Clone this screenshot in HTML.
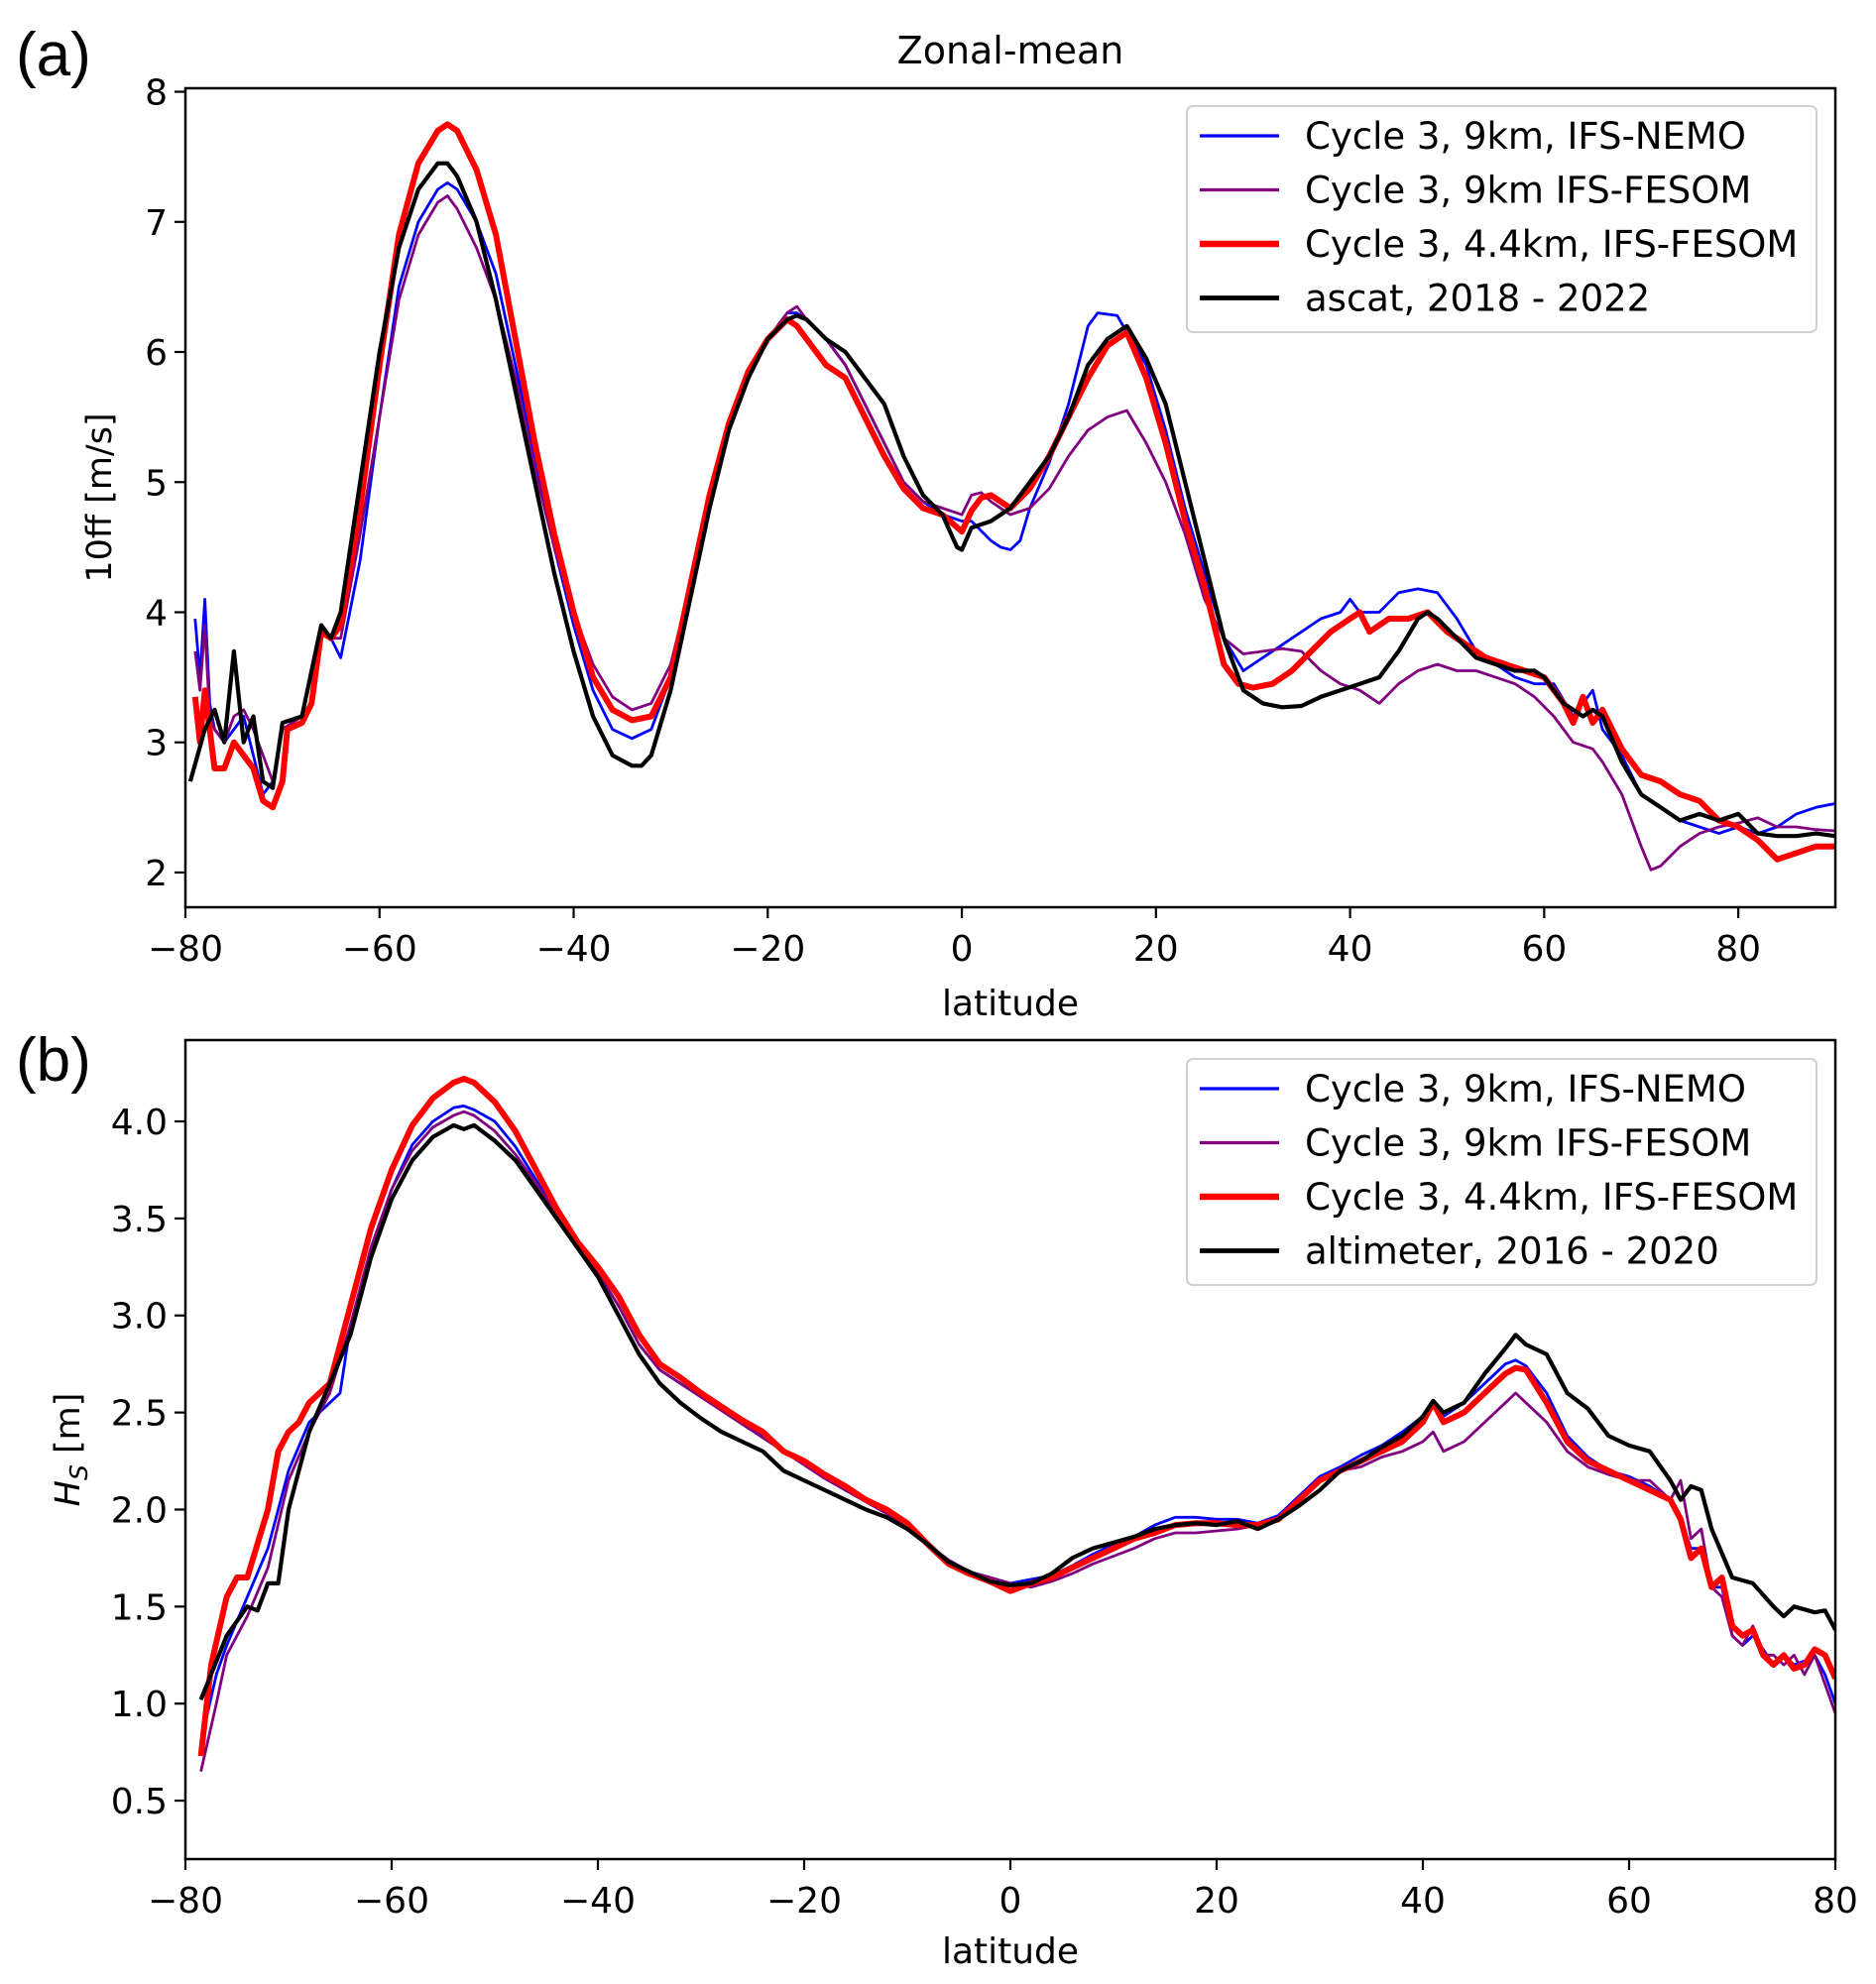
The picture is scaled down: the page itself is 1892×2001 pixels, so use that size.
<!DOCTYPE html>
<html><head><meta charset="utf-8">
<style>
html,body{margin:0;padding:0;background:#fff;}
svg{display:block;font-family:"DejaVu Sans","Liberation Sans",sans-serif;}
</style></head>
<body>
<svg id="fig" width="1892" height="2001" viewBox="0 0 1892 2001" xmlns="http://www.w3.org/2000/svg">
<rect width="1892" height="2001" fill="#fff"/>
<text x="16" y="76" font-size="62" font-family="Liberation Sans, sans-serif">(a)</text>
<text x="16" y="1090" font-size="62" font-family="Liberation Sans, sans-serif">(b)</text>
<text x="1019" y="64" font-size="38" text-anchor="middle">Zonal-mean</text>
<g id="pa"></g>
<g id="pb"></g>
</svg>
<script>
const NS="http://www.w3.org/2000/svg";
// ---- Panel (a) data: 10 m wind speed ----
const aXTicks=[-80,-60,-40,-20,0,20,40,60,80];
const aYTicks=[2,3,4,5,6,7,8];
const aNemo=[[-79,3.95],[-78.5,3.5],[-78,4.1],[-77.5,3.3],[-77,3.1],[-76,3.0],[-74,3.2],[-72,2.6],[-71,2.7],[-70,3.1],[-68,3.2],[-66,3.9],[-65,3.8],[-64,3.65],[-62,4.4],[-60,5.5],[-58,6.5],[-56,7.0],[-54,7.25],[-53,7.3],[-52,7.25],[-50,7.0],[-48,6.6],[-46,5.9],[-44,5.2],[-42,4.5],[-40,3.9],[-38,3.4],[-36,3.1],[-34,3.03],[-32,3.1],[-30,3.5],[-28,4.1],[-26,4.8],[-24,5.4],[-22,5.8],[-20,6.1],[-18,6.3],[-17,6.3],[-16,6.25],[-14,6.1],[-12,5.9],[-10,5.6],[-8,5.3],[-6,5.0],[-4,4.85],[-2,4.75],[0,4.7],[1,4.7],[3,4.55],[4,4.5],[5,4.48],[6,4.55],[7,4.8],[9,5.15],[11,5.6],[13,6.2],[14,6.3],[16,6.28],[17,6.15],[19,5.9],[21,5.4],[23,4.8],[25,4.3],[27,3.8],[29,3.55],[31,3.65],[33,3.75],[35,3.85],[37,3.95],[39,4.0],[40,4.1],[41,4.0],[43,4.0],[45,4.15],[47,4.18],[49,4.15],[51,3.95],[53,3.7],[55,3.6],[57,3.5],[59,3.45],[61,3.45],[63,3.2],[64,3.3],[65,3.4],[66,3.1],[68,2.9],[70,2.6],[72,2.5],[74,2.4],[76,2.35],[78,2.3],[80,2.35],[82,2.3],[84,2.35],[86,2.45],[88,2.5],[90,2.53]];
const aFesom9=[[-79,3.7],[-78.5,3.4],[-78,3.9],[-77.5,3.2],[-77,3.1],[-76,3.0],[-75,3.2],[-74,3.25],[-73,3.1],[-72,2.9],[-71,2.7],[-70,3.1],[-68,3.2],[-66,3.85],[-65,3.8],[-64,3.8],[-62,4.6],[-60,5.5],[-58,6.4],[-56,6.9],[-54,7.15],[-53,7.2],[-52,7.1],[-50,6.8],[-48,6.4],[-46,5.8],[-44,5.1],[-42,4.5],[-40,4.0],[-38,3.6],[-36,3.35],[-34,3.25],[-32,3.3],[-30,3.6],[-28,4.2],[-26,4.85],[-24,5.4],[-22,5.8],[-20,6.1],[-18,6.3],[-17,6.35],[-16,6.25],[-14,6.1],[-12,5.9],[-10,5.6],[-8,5.3],[-6,5.0],[-4,4.85],[-2,4.8],[0,4.75],[1,4.9],[2,4.92],[3,4.85],[5,4.75],[7,4.8],[9,4.95],[11,5.2],[13,5.4],[15,5.5],[17,5.55],[19,5.3],[21,5.0],[23,4.6],[25,4.1],[27,3.8],[29,3.68],[31,3.7],[33,3.72],[35,3.7],[37,3.55],[39,3.45],[41,3.4],[43,3.3],[45,3.45],[47,3.55],[49,3.6],[51,3.55],[53,3.55],[55,3.5],[57,3.45],[59,3.35],[61,3.2],[63,3.0],[65,2.95],[66,2.85],[68,2.6],[70,2.2],[71,2.02],[72,2.05],[74,2.2],[76,2.3],[78,2.35],[80,2.38],[82,2.42],[84,2.35],[86,2.35],[88,2.33],[90,2.32]];
const aFesom44=[[-79,3.35],[-78.5,3.0],[-78,3.4],[-77,2.8],[-76,2.8],[-75,3.0],[-74,2.9],[-73,2.8],[-72,2.55],[-71,2.5],[-70,2.7],[-69.5,3.1],[-68,3.15],[-67,3.3],[-66,3.85],[-65,3.8],[-64,3.9],[-62,4.8],[-60,5.9],[-58,6.9],[-56,7.45],[-54,7.7],[-53,7.75],[-52,7.7],[-50,7.4],[-48,6.9],[-46,6.1],[-44,5.3],[-42,4.6],[-40,4.0],[-38,3.5],[-36,3.25],[-34,3.17],[-32,3.2],[-30,3.5],[-28,4.2],[-26,4.9],[-24,5.45],[-22,5.85],[-20,6.1],[-18,6.25],[-17,6.2],[-16,6.1],[-14,5.9],[-12,5.8],[-10,5.5],[-8,5.2],[-6,4.95],[-4,4.8],[-2,4.75],[0,4.62],[1,4.78],[2,4.88],[3,4.9],[5,4.8],[7,4.95],[9,5.2],[11,5.5],[13,5.8],[15,6.05],[17,6.15],[19,5.8],[21,5.3],[23,4.7],[25,4.2],[27,3.6],[28.5,3.45],[30,3.42],[32,3.45],[34,3.55],[36,3.7],[38,3.85],[40,3.95],[41,4.0],[42,3.85],[44,3.95],[46,3.95],[48,4.0],[50,3.85],[52,3.75],[54,3.65],[56,3.6],[58,3.55],[60,3.5],[62,3.3],[63,3.15],[64,3.35],[65,3.15],[66,3.25],[68,2.95],[70,2.75],[72,2.7],[74,2.6],[76,2.55],[78,2.4],[80,2.35],[82,2.25],[84,2.1],[86,2.15],[88,2.2],[90,2.2]];
const aObs=[[-79.5,2.7],[-78,3.1],[-77,3.25],[-76,3.0],[-75,3.7],[-74,3.0],[-73,3.2],[-72,2.7],[-71,2.65],[-70,3.15],[-68,3.2],[-66,3.9],[-65,3.8],[-64,4.0],[-62,5.0],[-60,6.0],[-58,6.8],[-56,7.25],[-54,7.45],[-53,7.45],[-52,7.35],[-50,7.0],[-48,6.4],[-46,5.7],[-44,5.0],[-42,4.3],[-40,3.7],[-38,3.2],[-36,2.9],[-34,2.82],[-33,2.82],[-32,2.9],[-30,3.4],[-28,4.1],[-26,4.8],[-24,5.4],[-22,5.8],[-20,6.1],[-18,6.25],[-17,6.28],[-16,6.25],[-14,6.1],[-12,6.0],[-10,5.8],[-8,5.6],[-6,5.2],[-4,4.9],[-2,4.75],[-0.5,4.5],[0,4.48],[1,4.65],[3,4.7],[5,4.8],[7,5.0],[9,5.2],[11,5.5],[13,5.9],[15,6.1],[17,6.2],[19,5.95],[21,5.6],[23,5.0],[25,4.4],[27,3.8],[29,3.4],[31,3.3],[33,3.27],[35,3.28],[37,3.35],[39,3.4],[41,3.45],[43,3.5],[45,3.7],[47,3.95],[48,4.0],[49,3.95],[51,3.8],[53,3.65],[55,3.6],[57,3.55],[59,3.55],[60,3.5],[62,3.3],[63,3.25],[64,3.2],[65,3.25],[66,3.2],[68,2.85],[70,2.6],[72,2.5],[74,2.4],[76,2.45],[78,2.4],[80,2.45],[82,2.3],[84,2.28],[86,2.28],[88,2.3],[90,2.28]];
// ---- Panel (b) data: significant wave height ----
const bXTicks=[-80,-60,-40,-20,0,20,40,60,80];
const bYTicks=[0.5,1.0,1.5,2.0,2.5,3.0,3.5,4.0];
const bNemo=[[-78.5,0.8],[-77,1.15],[-76,1.3],[-74,1.55],[-72,1.8],[-70,2.2],[-68,2.45],[-66,2.55],[-65,2.6],[-64,2.95],[-62,3.35],[-60,3.65],[-58,3.88],[-56,4.0],[-54,4.07],[-53,4.08],[-52,4.06],[-50,4.0],[-48,3.87],[-46,3.7],[-44,3.52],[-42,3.36],[-40,3.22],[-38,3.05],[-36,2.85],[-34,2.72],[-32,2.65],[-30,2.58],[-28,2.52],[-26,2.45],[-24,2.38],[-22,2.3],[-20,2.24],[-18,2.17],[-16,2.1],[-14,2.04],[-12,1.98],[-10,1.92],[-8,1.82],[-6,1.74],[-4,1.68],[-2,1.65],[0,1.62],[2,1.64],[4,1.66],[6,1.71],[8,1.77],[10,1.82],[12,1.86],[14,1.92],[16,1.96],[18,1.96],[20,1.95],[22,1.95],[24,1.93],[26,1.97],[28,2.07],[30,2.17],[32,2.22],[34,2.28],[36,2.33],[38,2.4],[40,2.48],[41,2.55],[42,2.48],[44,2.55],[46,2.65],[48,2.75],[49,2.77],[50,2.74],[52,2.6],[54,2.38],[56,2.27],[58,2.2],[60,2.17],[62,2.12],[64,2.05],[65,1.95],[66,1.8],[67,1.8],[68,1.6],[69,1.6],[70,1.35],[71,1.3],[72,1.35],[73,1.28],[74,1.2],[75,1.25],[76,1.2],[77,1.22],[78,1.25],[79,1.15],[80,1.0]];
const bFesom9=[[-78.5,0.65],[-77,1.0],[-76,1.25],[-74,1.45],[-72,1.7],[-70,2.15],[-68,2.4],[-66,2.6],[-64,2.95],[-62,3.35],[-60,3.65],[-58,3.85],[-56,3.97],[-54,4.03],[-53,4.05],[-52,4.03],[-50,3.95],[-48,3.83],[-46,3.68],[-44,3.52],[-42,3.36],[-40,3.22],[-38,3.05],[-36,2.85],[-34,2.72],[-32,2.65],[-30,2.58],[-28,2.51],[-26,2.44],[-24,2.37],[-22,2.3],[-20,2.23],[-18,2.16],[-16,2.1],[-14,2.04],[-12,1.98],[-10,1.92],[-8,1.82],[-6,1.74],[-4,1.68],[-2,1.65],[0,1.62],[2,1.6],[4,1.63],[6,1.67],[8,1.72],[10,1.76],[12,1.8],[14,1.85],[16,1.88],[18,1.88],[20,1.89],[22,1.9],[24,1.92],[26,1.95],[28,2.05],[30,2.15],[32,2.2],[34,2.22],[36,2.27],[38,2.3],[40,2.35],[41,2.4],[42,2.3],[44,2.35],[46,2.45],[48,2.55],[49,2.6],[50,2.55],[52,2.45],[54,2.3],[56,2.22],[58,2.18],[60,2.15],[62,2.15],[64,2.05],[65,2.15],[66,1.85],[67,1.9],[68,1.6],[69,1.55],[70,1.35],[71,1.3],[72,1.4],[73,1.25],[74,1.25],[75,1.2],[76,1.25],[77,1.15],[78,1.25],[79,1.1],[80,0.95]];
const bFesom44=[[-78.5,0.73],[-77.5,1.2],[-76,1.55],[-75,1.65],[-74,1.65],[-72,2.0],[-71,2.3],[-70,2.4],[-69,2.45],[-68,2.55],[-67,2.6],[-66,2.65],[-64,3.05],[-62,3.45],[-60,3.75],[-58,3.98],[-56,4.12],[-54,4.2],[-53,4.22],[-52,4.2],[-50,4.1],[-48,3.95],[-46,3.75],[-44,3.55],[-42,3.38],[-40,3.25],[-38,3.1],[-36,2.9],[-34,2.75],[-32,2.68],[-30,2.6],[-28,2.53],[-26,2.46],[-24,2.4],[-22,2.3],[-20,2.25],[-18,2.18],[-16,2.12],[-14,2.05],[-12,2.0],[-10,1.93],[-8,1.82],[-6,1.72],[-4,1.67],[-2,1.63],[0,1.58],[2,1.62],[4,1.65],[6,1.7],[8,1.75],[10,1.8],[12,1.85],[14,1.88],[16,1.92],[18,1.93],[20,1.93],[22,1.92],[24,1.92],[26,1.95],[28,2.05],[30,2.15],[32,2.2],[34,2.25],[36,2.3],[38,2.35],[40,2.45],[41,2.55],[42,2.45],[44,2.5],[46,2.6],[48,2.7],[49,2.73],[50,2.72],[52,2.55],[54,2.35],[56,2.25],[58,2.2],[60,2.15],[62,2.1],[64,2.05],[65,1.95],[66,1.75],[67,1.8],[68,1.6],[69,1.65],[70,1.4],[71,1.35],[72,1.38],[73,1.25],[74,1.2],[75,1.25],[76,1.18],[77,1.2],[78,1.28],[79,1.25],[80,1.13]];
const bObs=[[-78.5,1.02],[-76,1.35],[-74,1.5],[-73,1.48],[-72,1.62],[-71,1.62],[-70,2.0],[-68,2.4],[-66,2.65],[-64,2.9],[-62,3.3],[-60,3.6],[-58,3.8],[-56,3.92],[-54,3.98],[-53,3.96],[-52,3.98],[-50,3.9],[-48,3.8],[-46,3.65],[-44,3.5],[-42,3.35],[-40,3.2],[-38,3.0],[-36,2.8],[-34,2.65],[-32,2.55],[-30,2.47],[-28,2.4],[-26,2.35],[-24,2.3],[-22,2.2],[-20,2.15],[-18,2.1],[-16,2.05],[-14,2.0],[-12,1.96],[-10,1.9],[-8,1.82],[-6,1.73],[-4,1.68],[-2,1.63],[0,1.61],[2,1.62],[4,1.67],[6,1.75],[8,1.8],[10,1.83],[12,1.86],[14,1.9],[16,1.92],[18,1.93],[20,1.92],[22,1.94],[24,1.9],[26,1.95],[28,2.02],[30,2.1],[32,2.2],[34,2.25],[36,2.32],[38,2.38],[40,2.48],[41,2.56],[42,2.5],[44,2.55],[46,2.7],[48,2.83],[49,2.9],[50,2.85],[52,2.8],[54,2.6],[56,2.52],[58,2.38],[60,2.33],[62,2.3],[64,2.15],[65,2.05],[66,2.12],[67,2.1],[68,1.9],[70,1.65],[72,1.62],[74,1.5],[75,1.45],[76,1.5],[78,1.47],[79,1.48],[80,1.38]];
const aLabels=["Cycle 3, 9km, IFS-NEMO","Cycle 3, 9km IFS-FESOM","Cycle 3, 4.4km, IFS-FESOM","ascat, 2018 - 2022"];
const bLabels=["Cycle 3, 9km, IFS-NEMO","Cycle 3, 9km IFS-FESOM","Cycle 3, 4.4km, IFS-FESOM","altimeter, 2016 - 2020"];

const styles=[{c:"#0000ff",w:2.8,n:"nemo-9km"},{c:"#800080",w:2.8,n:"fesom-9km"},{c:"#ff0000",w:6,n:"fesom-4p4km"},{c:"#000000",w:4.2,n:"observations"}];

function el(tag,attrs,parent){const e=document.createElementNS(NS,tag);for(const k in attrs)e.setAttribute(k,attrs[k]);parent.appendChild(e);return e;}

function panel(g,cfg){
  const L=187,R=1851,T=cfg.top,B=cfg.bottom;
  const xs=v=>L+(v-cfg.x0)/(cfg.x1-cfg.x0)*(R-L);
  const ys=v=>B-(v-cfg.y0)/(cfg.y1-cfg.y0)*(B-T);
  const clipId="clip"+cfg.id;
  const cp=el("clipPath",{id:clipId},g);
  el("rect",{x:L,y:T,width:R-L,height:B-T},cp);
  cfg.series.forEach((s,i)=>{
    const d=s.map((p,j)=>(j?"L":"M")+xs(p[0]).toFixed(1)+","+ys(p[1]).toFixed(1)).join("");
    const path=el("path",{d:d,fill:"none",stroke:styles[i].c,"stroke-width":styles[i].w,"stroke-linejoin":"round","clip-path":"url(#"+clipId+")"},g);
    
    
  });
  const frame=el("rect",{x:L,y:T,width:R-L,height:B-T,fill:"none",stroke:"#000","stroke-width":2.5},g);
  
  
  cfg.xticks.forEach(t=>{
    const x=xs(t);
    el("line",{x1:x,x2:x,y1:B,y2:B+11,stroke:"#000","stroke-width":2.2},g);
    const tx=el("text",{x:x,y:B+54,"font-size":36,"text-anchor":"middle"},g);
    tx.textContent=(t<0?"\u2212"+(-t):String(t));
    
    
  });
  cfg.yticks.forEach(t=>{
    const y=ys(t);
    el("line",{x1:L-11,x2:L,y1:y,y2:y,stroke:"#000","stroke-width":2.2},g);
    const tx=el("text",{x:L-18,y:y+13,"font-size":36,"text-anchor":"end"},g);
    tx.textContent=cfg.yfmt(t);
    
    
  });
  const xl=el("text",{x:(L+R)/2,y:cfg.xlabY,"font-size":36,"text-anchor":"middle"},g);
  xl.textContent="latitude";
  
  
  const yl=el("text",{x:0,y:0,"font-size":35,"text-anchor":"middle",transform:"translate("+cfg.ylabX+","+((T+B)/2)+") rotate(-90)"},g);
  yl.innerHTML=cfg.ylab;
  
  
  const lg=el("g",{},g);
  
  
  el("rect",{x:1197,y:cfg.legTop,width:635,height:228,rx:6,fill:"#fff","fill-opacity":0.85,stroke:"#d0d0d0","stroke-width":2},lg);
  cfg.labels.forEach((lab,i)=>{
    const y=cfg.legTop+30+i*54.5;
    const ln=el("line",{x1:1210,x2:1290,y1:y,y2:y,stroke:styles[i].c,"stroke-width":styles[i].w+0.5},lg);
    
    
    const tx=el("text",{x:1316,y:y+13,"font-size":37},lg);
    tx.textContent=lab;
    
    
  });
}

panel(document.getElementById("pa"),{id:"panel-a",top:89,bottom:915,x0:-80,x1:90,y0:1.733,y1:8.027,
  xticks:aXTicks,yticks:aYTicks,yfmt:t=>String(t),series:[aNemo,aFesom9,aFesom44,aObs],
  labels:aLabels,legTop:107,xlabY:1024,ylabX:112,ylab:"10ff [m/s]"});
panel(document.getElementById("pb"),{id:"panel-b",top:1049,bottom:1875,x0:-80,x1:80,y0:0.199,y1:4.419,
  xticks:bXTicks,yticks:bYTicks,yfmt:t=>t.toFixed(1),series:[bNemo,bFesom9,bFesom44,bObs],
  labels:bLabels,legTop:1068,xlabY:1980,ylabX:80,ylab:'<tspan font-style="italic">H</tspan><tspan font-style="italic" font-size="25" dy="8">S</tspan><tspan dy="-8"> [m]</tspan>'});
</script>
</body></html>
